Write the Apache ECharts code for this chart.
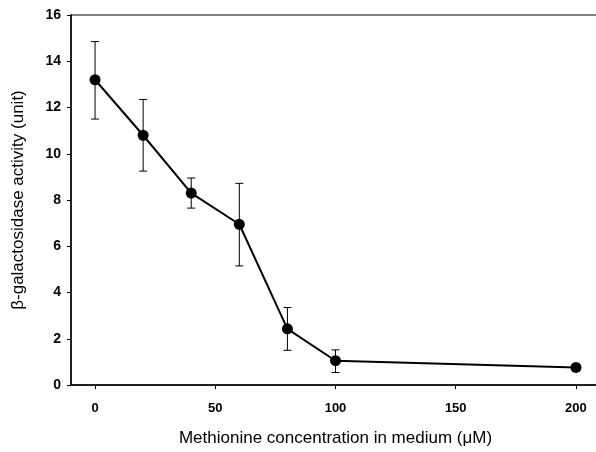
<!DOCTYPE html>
<html>
<head>
<meta charset="utf-8">
<script src="https://cdn.jsdelivr.net/npm/echarts@6/dist/echarts.min.js"></script>
<style>
  html, body { margin: 0; padding: 0; background: #fff; }
  #chart { width: 596px; height: 452px; }
</style>
</head>
<body>
<div id="chart"></div>
<script>
// methionine concentration (uM)
const conc = [0, 20, 40, 60, 80, 100, 200];
// beta-galactosidase activity and its error range
const activity = [13.2, 10.8, 8.3, 6.95, 2.43, 1.05, 0.76];
const errLow = [11.5, 9.25, 7.65, 5.15, 1.5, 0.54, 0.6];
const errHigh = [14.85, 12.35, 8.95, 8.72, 3.35, 1.52, 0.9];
const xTicks = [0, 50, 100, 150, 200];

const font = "Liberation Sans, Arial, sans-serif";

const points = conc.map((c, i) => [c, activity[i]]);
const bars = conc.map((c, i) => [c, errLow[i], errHigh[i]]);

const chart = echarts.init(document.getElementById("chart"));

chart.setOption({
  animation: false,
  grid: {
    left: 71, right: -4, top: 15, bottom: 67,
    outerBoundsMode: "none",
    show: true, borderColor: "#000", borderWidth: 1
  },
  xAxis: {
    type: "value",
    min: -10,
    max: 210,
    name: "Methionine concentration in medium (\u03bcM)",
    nameLocation: "middle",
    nameGap: 45,
    nameTextStyle: { fontFamily: font, fontSize: 17, color: "#000" },
    axisLine: { show: true, onZero: false, lineStyle: { color: "#000", width: 1.5 } },
    axisTick: { show: true, customValues: xTicks, length: 4, lineStyle: { color: "#000" } },
    axisLabel: { customValues: xTicks, fontFamily: font, fontSize: 13, color: "#000", fontWeight: "bold", margin: 17 },
    splitLine: { show: false }
  },
  yAxis: {
    type: "value",
    min: 0,
    max: 16,
    interval: 2,
    name: "\u03b2-galactosidase activity (unit)",
    nameLocation: "middle",
    nameGap: 44,
    nameTextStyle: { fontFamily: font, fontSize: 17, color: "#000" },
    axisLine: { show: true, onZero: false, lineStyle: { color: "#000", width: 1.5 } },
    axisTick: { show: true, length: 4, lineStyle: { color: "#000" } },
    axisLabel: { fontFamily: font, fontSize: 14, color: "#000", fontWeight: "bold", margin: 10 },
    splitLine: { show: false }
  },
  series: [
    {
      type: "custom",
      data: bars,
      z: 1,
      renderItem: (params, api) => {
        const x = api.value(0);
        const lo = api.coord([x, api.value(1)]);
        const hi = api.coord([x, api.value(2)]);
        const cap = 4;
        const style = { stroke: "#000", lineWidth: 1 };
        return {
          type: "group",
          children: [
            { type: "line", shape: { x1: lo[0], y1: lo[1], x2: hi[0], y2: hi[1] }, style },
            { type: "line", shape: { x1: lo[0] - cap, y1: lo[1], x2: lo[0] + cap, y2: lo[1] }, style },
            { type: "line", shape: { x1: hi[0] - cap, y1: hi[1], x2: hi[0] + cap, y2: hi[1] }, style }
          ]
        };
      }
    },
    {
      type: "line",
      data: points,
      z: 2,
      symbol: "circle",
      symbolSize: 11,
      itemStyle: { color: "#000" },
      lineStyle: { color: "#000", width: 2 }
    }
  ]
});
</script>
</body>
</html>
